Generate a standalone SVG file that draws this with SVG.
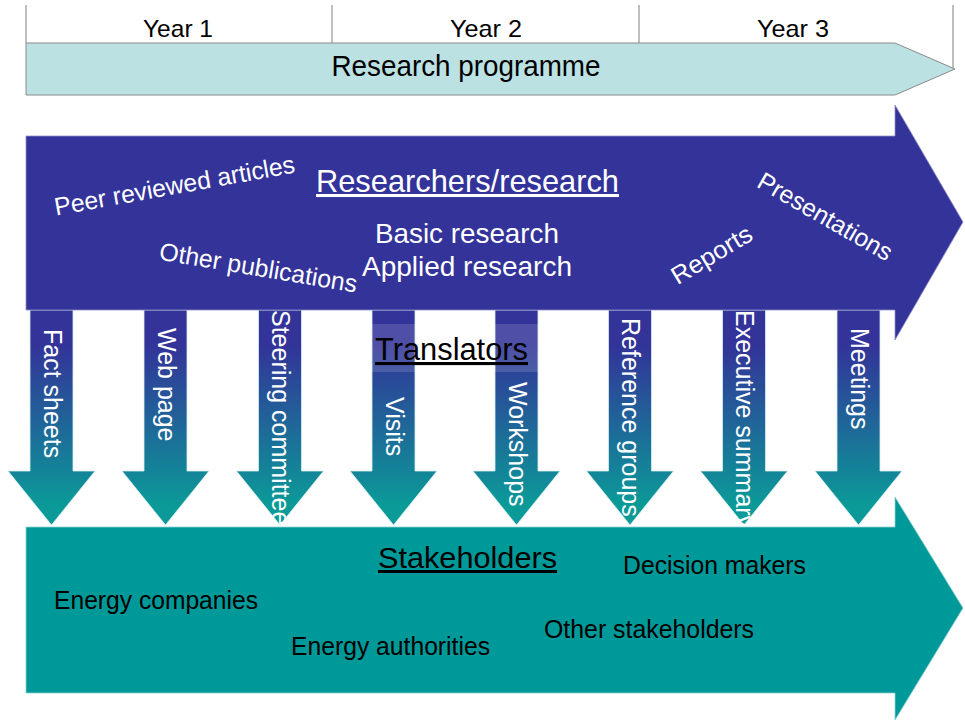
<svg xmlns="http://www.w3.org/2000/svg" width="965" height="720" viewBox="0 0 965 720">
  <defs>
    <linearGradient id="transGrad" gradientUnits="userSpaceOnUse" x1="0" y1="310" x2="0" y2="505">
      <stop offset="0" stop-color="#333399"/>
      <stop offset="0.18" stop-color="#333399"/>
      <stop offset="1" stop-color="#0b9a98"/>
    </linearGradient>
    <!-- one down-pointing translator arrow, tip at (0,525) -->
    <path id="downArrow" d="M -21.5 310 L 21.5 310 L 21.5 471 L 43.5 471 L 0 525 L -43.5 471 L -21.5 471 Z"/>
    <style>
      text { font-family: "Liberation Sans", Arial, sans-serif; }
      .year { font-size: 24px; fill: #000; text-anchor: middle; }
      .wt { fill: #ffffff; }
      .bk { fill: #000000; }
      .side { font-size: 25px; fill: #ffffff; }
      .ul { text-decoration: underline; }
      .tarrow { fill: url(#transGrad); stroke: #d6eef0; stroke-width: 0.8; }
    </style>
  </defs>

  <rect width="965" height="720" fill="#ffffff"/>

  <!-- timeline -->
  <g id="timeline">
    <g stroke="#7f7f7f" stroke-width="1">
      <line x1="26" y1="5" x2="26" y2="43"/>
      <line x1="332" y1="5" x2="332" y2="43"/>
      <line x1="639" y1="5" x2="639" y2="43"/>
      <line x1="953" y1="5" x2="953" y2="68"/>
    </g>
    <text class="year" x="178" y="37" textLength="70" lengthAdjust="spacingAndGlyphs">Year 1</text>
    <text class="year" x="486" y="37" textLength="72" lengthAdjust="spacingAndGlyphs">Year 2</text>
    <text class="year" x="793" y="37" textLength="72" lengthAdjust="spacingAndGlyphs">Year 3</text>
  </g>

  <g id="research-programme">
    <polygon points="26,43 895,43 955,69 895,95 26,95" fill="#bce1e3" stroke="#8a8a8a" stroke-width="1"/>
    <text x="466" y="76" font-size="29" text-anchor="middle" textLength="269" lengthAdjust="spacingAndGlyphs" class="bk">Research programme</text>
  </g>

  <!-- translator arrows (drawn beneath the two big arrows) -->
  <g id="connectors">
    <use href="#downArrow" class="tarrow" transform="translate(51.5,0)"/>
    <use href="#downArrow" class="tarrow" transform="translate(165.5,0)"/>
    <use href="#downArrow" class="tarrow" transform="translate(280,0)"/>
    <use href="#downArrow" class="tarrow" transform="translate(393.5,0)"/>
    <use href="#downArrow" class="tarrow" transform="translate(516.5,0)"/>
    <use href="#downArrow" class="tarrow" transform="translate(630,0)"/>
    <use href="#downArrow" class="tarrow" transform="translate(744,0)"/>
    <use href="#downArrow" class="tarrow" transform="translate(858.5,0)"/>
  </g>

  <g id="translators">
    <rect x="372" y="324" width="166" height="48" fill="#ffffff" fill-opacity="0.14"/>
    <text x="375" y="360" font-size="31" textLength="153" lengthAdjust="spacingAndGlyphs" class="bk ul">Translators</text>
    <text class="side" transform="translate(51.5,329) rotate(90)" y="8">Fact sheets</text>
    <text class="side" transform="translate(165.5,328) rotate(90)" y="8">Web page</text>
    <text class="side" transform="translate(280,310) rotate(90)" y="8">Steering committee</text>
    <text class="side" transform="translate(393.5,397) rotate(90)" y="8">Visits</text>
    <text class="side" transform="translate(516.5,382) rotate(90)" y="8">Workshops</text>
    <text class="side" transform="translate(630,318) rotate(90)" y="8">Reference groups</text>
    <text class="side" transform="translate(744,310) rotate(90)" y="8">Executive summary</text>
    <text class="side" transform="translate(858.5,328) rotate(90)" y="8">Meetings</text>
  </g>

  <!-- researchers / research arrow -->
  <g id="researchers">
    <polygon points="26,136 895,136 895,105 963,222 895,340 895,310 26,310" fill="#333399" stroke="#8f8fc8" stroke-width="0.8"/>
    <text x="316" y="192" font-size="30.5" textLength="303" lengthAdjust="spacingAndGlyphs" class="wt ul">Researchers/research</text>
    <text x="467" y="243" font-size="27.5" text-anchor="middle" textLength="184" lengthAdjust="spacingAndGlyphs" class="wt">Basic research</text>
    <text x="467" y="276" font-size="27.5" text-anchor="middle" textLength="210" lengthAdjust="spacingAndGlyphs" class="wt">Applied research</text>
    <text x="176" y="194" font-size="25" text-anchor="middle" textLength="244" lengthAdjust="spacingAndGlyphs" class="wt" transform="rotate(-10.2,176,194)">Peer reviewed articles</text>
    <text x="257" y="276" font-size="25" text-anchor="middle" textLength="200" lengthAdjust="spacingAndGlyphs" class="wt" transform="rotate(9.5,257,276)">Other publications</text>
    <text x="716" y="262" font-size="25" text-anchor="middle" textLength="90" lengthAdjust="spacingAndGlyphs" class="wt" transform="rotate(-31,716,262)">Reports</text>
    <text x="821" y="224" font-size="25" text-anchor="middle" textLength="151" lengthAdjust="spacingAndGlyphs" class="wt" transform="rotate(30,821,224)">Presentations</text>
  </g>

  <!-- stakeholders arrow -->
  <g id="stakeholders">
    <polygon points="26,527 895,527 895,497 963,608 895,720 895,693 26,693" fill="#009999" stroke="#8fd0d0" stroke-width="0.8"/>
    <text x="378" y="568" font-size="30" textLength="179" lengthAdjust="spacingAndGlyphs" class="bk ul">Stakeholders</text>
    <text x="623" y="574" font-size="25" textLength="183" lengthAdjust="spacingAndGlyphs" class="bk">Decision makers</text>
    <text x="54" y="609" font-size="25" textLength="204" lengthAdjust="spacingAndGlyphs" class="bk">Energy companies</text>
    <text x="291" y="655" font-size="25" textLength="199" lengthAdjust="spacingAndGlyphs" class="bk">Energy authorities</text>
    <text x="544" y="638" font-size="25" textLength="210" lengthAdjust="spacingAndGlyphs" class="bk">Other stakeholders</text>
  </g>
</svg>
